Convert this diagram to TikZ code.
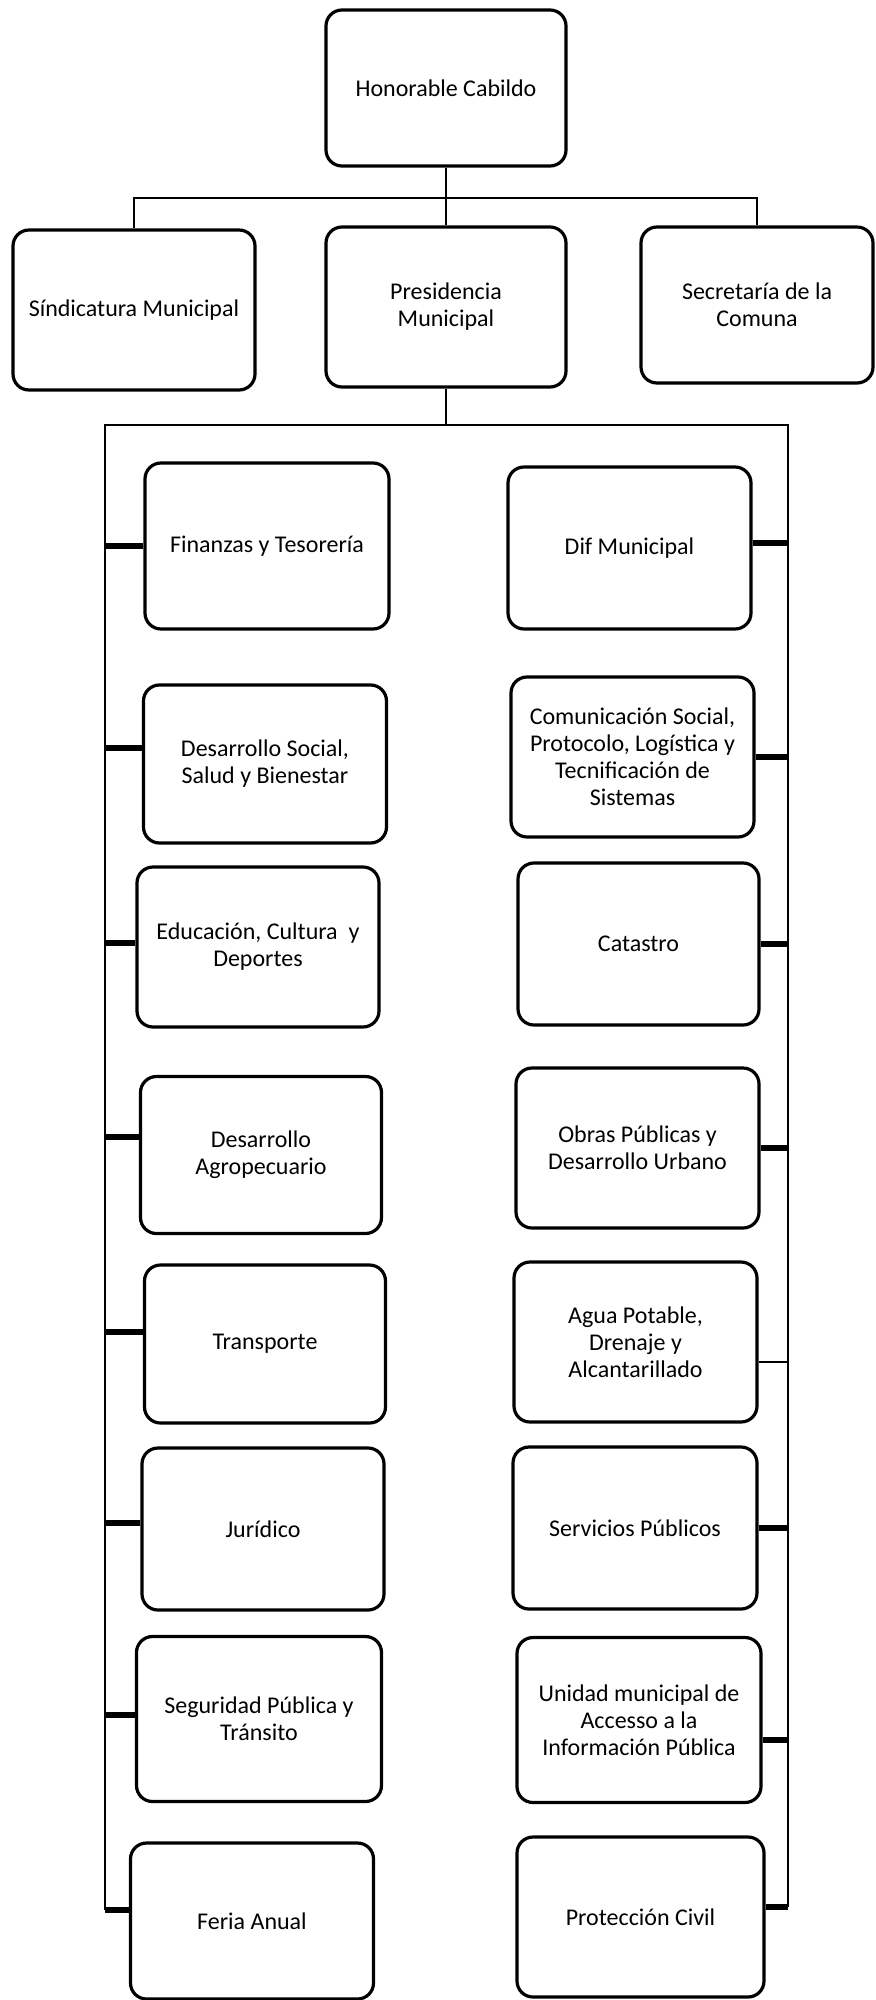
\documentclass[tikz,border=0pt]{standalone}
\usepackage{fontspec}
\setmainfont{Carlito}
\begin{document}
\begin{tikzpicture}[x=0.5pt,y=-0.5pt,
  box/.style={draw=black, line width=1.6pt, rounded corners=8pt, fill=white,
    align=center, inner sep=2pt, font=\fontsize{12}{13.5}\selectfont},
  wire/.style={line width=1.4pt},
  stub/.style={line width=2.6pt}]
\fill[white] (0,0) rectangle (876,2000);
\useasboundingbox (0,0) rectangle (876,2000);

% top level
\node[box, minimum width=120pt, minimum height=78pt] (cab) at (446,88) {Honorable Cabildo};
\node[box, minimum width=121pt, minimum height=80pt] (sind) at (134,310) {Síndicatura Municipal};
\node[box, minimum width=120pt, minimum height=80pt] (pres) at (446,307) {Presidencia\\Municipal};
\node[box, minimum width=116pt, minimum height=78pt] (sec) at (757,305) {Secretaría de la\\Comuna};

% left column
\node[box, minimum width=122pt, minimum height=83pt] (fin) at (267,546) {Finanzas y Tesorería};
\node[box, minimum width=121.5pt, minimum height=79pt] (ds) at (265,764) {Desarrollo Social,\\Salud y Bienestar};
\node[box, minimum width=121pt, minimum height=80pt] (edu) at (258,947) {Educación, Cultura~~y\\Deportes};
\node[box, minimum width=120.5pt, minimum height=78.5pt] (agro) at (261,1155) {Desarrollo\\Agropecuario};
\node[box, minimum width=120.5pt, minimum height=79pt] (trans) at (265,1344) {Transporte};
\node[box, minimum width=121pt, minimum height=81pt] (jur) at (263,1529) {Jurídico};
\node[box, minimum width=122.5pt, minimum height=82.5pt] (seg) at (259,1719) {Seguridad Pública y\\Tránsito};
\node[box, minimum width=121.5pt, minimum height=78pt] (feria) at (252,1921) {Feria Anual};

% right column
\node[box, minimum width=121.5pt, minimum height=81pt] (dif) at (629.5,548) {Dif Municipal};
\node[box, minimum width=121.5pt, minimum height=80pt] (com) at (632.5,757) {Comunicación Social,\\Protocolo, Logística y\\Tecnificación de\\Sistemas};
\node[box, minimum width=120.5pt, minimum height=81pt] (cat) at (638.5,944) {Catastro};
\node[box, minimum width=121.5pt, minimum height=80pt] (obras) at (637.5,1148) {Obras Públicas y\\Desarrollo Urbano};
\node[box, minimum width=121.5pt, minimum height=80pt] (agua) at (635.5,1342) {Agua Potable,\\Drenaje y\\Alcantarillado};
\node[box, minimum width=122pt, minimum height=81pt] (serv) at (635,1528) {Servicios Públicos};
\node[box, minimum width=122pt, minimum height=82.5pt] (uni) at (639,1720) {Unidad municipal de\\Accesso a la\\Información Pública};
\node[box, minimum width=123.5pt, minimum height=80pt] (prot) at (640.5,1917) {Protección Civil};

% connector skeleton
\coordinate (hbar) at (446,198);
\coordinate (btop) at (446,425);
\coordinate (Ltop) at (105,425);
\coordinate (Rtop) at (788,425);
\coordinate (Lbot) at (105,1910);
\coordinate (Rbot) at (788,1907);

\draw[wire] (cab.south) -- (pres.north);
\draw[wire] (sind.north) |- (hbar) -| (sec.north);
\draw[wire] (pres.south) -- (btop);
\draw[wire] (Lbot) -- (Ltop) -- (Rtop) -- (Rbot);

% left stubs
\draw[stub] (fin.west) -- (fin.west -| Ltop);
\draw[stub] ([yshift=8pt]ds.west) -- ([yshift=8pt]ds.west -| Ltop);
\draw[stub] ([yshift=2pt]edu.west) -- ([yshift=2pt]edu.west -| Ltop);
\draw[stub] ([yshift=9pt]agro.west) -- ([yshift=9pt]agro.west -| Ltop);
\draw[stub] ([yshift=6pt]trans.west) -- ([yshift=6pt]trans.west -| Ltop);
\draw[stub] ([yshift=3pt]jur.west) -- ([yshift=3pt]jur.west -| Ltop);
\draw[stub] ([yshift=2pt]seg.west) -- ([yshift=2pt]seg.west -| Ltop);
\draw[stub] ([yshift=5.5pt]feria.west) -- ([yshift=5.5pt]feria.west -| Ltop);

% right stubs
\draw[stub] ([yshift=2.5pt]dif.east) -- ([yshift=2.5pt]dif.east -| Rtop);
\draw[stub] (com.east) -- (com.east -| Rtop);
\draw[stub] (cat.east) -- (cat.east -| Rtop);
\draw[stub] (obras.east) -- (obras.east -| Rtop);
\draw[wire] ([yshift=-10pt]agua.east) -- ([yshift=-10pt]agua.east -| Rtop);
\draw[stub] (serv.east) -- (serv.east -| Rtop);
\draw[stub] ([yshift=-10pt]uni.east) -- ([yshift=-10pt]uni.east -| Rtop);
\draw[stub] ([yshift=5pt]prot.east) -- ([yshift=5pt]prot.east -| Rtop);
\end{tikzpicture}
\end{document}
